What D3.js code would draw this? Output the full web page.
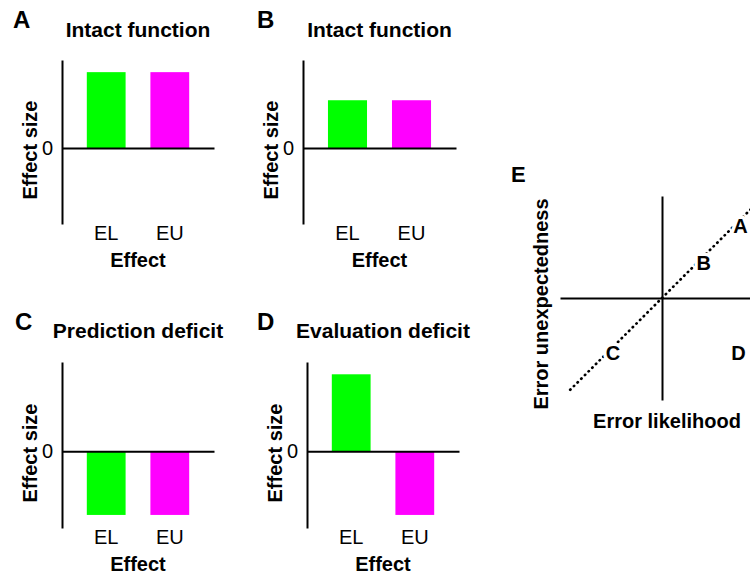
<!DOCTYPE html>
<html>
<head>
<meta charset="utf-8">
<script src="https://cdn.jsdelivr.net/npm/d3@7/dist/d3.min.js"></script>
<style>
  html, body { margin: 0; padding: 0; background: #fff; }
  svg { display: block; font-family: "Liberation Sans", Arial, Helvetica, sans-serif; }
</style>
</head>
<body>
<svg id="chart" width="750" height="574"></svg>
<script>
// ---------- data ----------
const categories = ["EL", "EU"];
const panelIds = ["A", "B", "C", "D"];
const panelTitles = ["Intact function", "Intact function", "Prediction deficit", "Evaluation deficit"];
const elValues = [1.0, 0.63, -0.83, 1.0];
const euValues = [1.0, 0.63, -0.83, -0.83];
const yTickValues = [0];
const yTickLabels = ["0"];
const xAxisTitle = "Effect";
const yAxisTitle = "Effect size";
const barColors = ["#00ff00", "#ff00ff"];

// panel E
const quadLabels = ["A", "B", "C", "D"];
const quadX = [0.77, 0.41, -0.48, 0.75];
const quadY = [0.71, 0.34, -0.54, -0.54];
const diagX = [-0.9, 1.0];
const diagY = [-0.9, 1.0];
const eXTitle = "Error likelihood";
const eYTitle = "Error unexpectedness";

// ---------- layout ----------
const svg = d3.select("#chart");
const frames = [
  { axisX: 62,  right: 214, top: 60,  bottom: 224, letterX: 13,  letterY: 28,  titleY: 37 },
  { axisX: 303, right: 456, top: 60,  bottom: 224, letterX: 257, letterY: 28,  titleY: 37 },
  { axisX: 62,  right: 214, top: 362, bottom: 528, letterX: 15,  letterY: 330, titleY: 338 },
  { axisX: 307, right: 459, top: 362, bottom: 528, letterX: 257, letterY: 330, titleY: 338 }
];

panelIds.forEach((id, i) => {
  const f = frames[i];
  const g = svg.append("g");
  const x = d3.scaleBand().domain(categories).range([f.axisX, f.right]).paddingInner(0.39).paddingOuter(0.39);
  const y = d3.scaleLinear().domain([-1.0, 1.16]).range([f.bottom, f.top]);
  const vals = [elValues[i], euValues[i]];

  // bars
  g.selectAll("rect.bar").data(categories).join("rect")
    .attr("class", "bar")
    .attr("x", d => x(d))
    .attr("width", x.bandwidth())
    .attr("y", (d, j) => Math.min(y(0), y(vals[j])))
    .attr("height", (d, j) => Math.abs(y(vals[j]) - y(0)))
    .attr("fill", (d, j) => barColors[j]);

  // y axis
  const yAxis = d3.axisLeft(y).tickValues(yTickValues).tickFormat((d, k) => yTickLabels[k])
    .tickSize(0).tickSizeOuter(0).tickPadding(9);
  const ya = g.append("g").attr("transform", `translate(${f.axisX},0)`).call(yAxis);
  ya.select(".domain").attr("stroke", "#000").attr("stroke-width", 2);
  ya.selectAll("text").attr("font-size", 20).attr("fill", "#000");

  // zero line
  const zeroAxis = d3.axisBottom(x).tickValues([]).tickSizeOuter(0);
  const za = g.append("g").attr("transform", `translate(0,${y(0)})`).call(zeroAxis);
  za.select(".domain").attr("stroke", "#000").attr("stroke-width", 2);

  // category labels
  const catAxis = d3.axisBottom(x).tickSize(0).tickPadding(2);
  const ca = g.append("g").attr("transform", `translate(0,${f.bottom})`).call(catAxis);
  ca.select(".domain").remove();
  ca.selectAll("text").attr("font-size", 20).attr("fill", "#000");

  // axis titles
  g.append("text")
    .attr("x", (f.axisX + f.right) / 2).attr("y", f.bottom + 43)
    .attr("text-anchor", "middle").attr("font-weight", "bold").attr("font-size", 20)
    .text(xAxisTitle);
  g.append("text")
    .attr("transform", `translate(${f.axisX - 25},${(f.top + f.bottom) / 2 + 8}) rotate(-90)`)
    .attr("text-anchor", "middle").attr("font-weight", "bold").attr("font-size", 20)
    .text(yAxisTitle);

  // title and letter
  g.append("text")
    .attr("x", (f.axisX + f.right) / 2).attr("y", f.titleY)
    .attr("text-anchor", "middle").attr("font-weight", "bold").attr("font-size", 21)
    .text(panelTitles[i]);
  g.append("text")
    .attr("x", f.letterX).attr("y", f.letterY)
    .attr("font-weight", "bold").attr("font-size", 24)
    .text(id);
});

// ---------- panel E ----------
const ge = svg.append("g");
const ex = d3.scaleLinear().domain([-1, 1]).range([560, 764]);
const ey = d3.scaleLinear().domain([-1, 1]).range([400, 196]);

const hAxis = d3.axisBottom(ex).tickValues([]).tickSizeOuter(0);
const ha = ge.append("g").attr("transform", `translate(0,${ey(0)})`).call(hAxis);
ha.select(".domain").attr("stroke", "#000").attr("stroke-width", 2);
const vAxis = d3.axisLeft(ey).tickValues([]).tickSizeOuter(0);
const va = ge.append("g").attr("transform", `translate(${ex(0)},0)`).call(vAxis);
va.select(".domain").attr("stroke", "#000").attr("stroke-width", 2);

const diag = diagX.map((d, k) => [d, diagY[k]]);
ge.append("path")
  .datum(diag)
  .attr("d", d3.line().x(d => ex(d[0])).y(d => ey(d[1])))
  .attr("fill", "none").attr("stroke", "#000").attr("stroke-width", 2.7)
  .attr("stroke-linecap", "round")
  .attr("stroke-dasharray", "0.4,4.8");

ge.selectAll("text.quad").data(quadLabels).join("text")
  .attr("class", "quad")
  .attr("x", (d, k) => ex(quadX[k])).attr("y", (d, k) => ey(quadY[k]) + 7)
  .attr("text-anchor", "middle").attr("font-weight", "bold").attr("font-size", 20)
  .attr("stroke", "#fff").attr("stroke-width", 7).attr("paint-order", "stroke")
  .attr("stroke-linejoin", "round")
  .text(d => d);

ge.append("text")
  .attr("x", 667).attr("y", 428)
  .attr("text-anchor", "middle").attr("font-weight", "bold").attr("font-size", 20)
  .text(eXTitle);
ge.append("text")
  .attr("transform", `translate(548,304) rotate(-90)`)
  .attr("text-anchor", "middle").attr("font-weight", "bold").attr("font-size", 20)
  .text(eYTitle);
ge.append("text")
  .attr("x", 511).attr("y", 182)
  .attr("font-weight", "bold").attr("font-size", 22)
  .text("E");
</script>
</body>
</html>
